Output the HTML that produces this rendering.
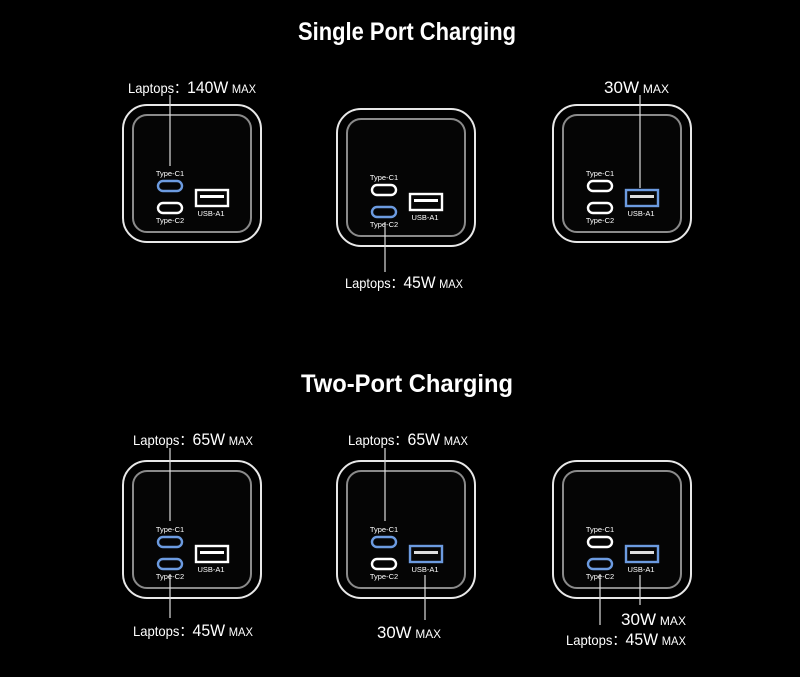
<!DOCTYPE html>
<html><head><meta charset="utf-8"><style>
html,body{margin:0;padding:0;background:#000;}
svg{display:block}
text{font-family:"Liberation Sans",sans-serif;fill:#fff}
</style></head><body>
<svg width="800" height="677" viewBox="0 0 800 677" xmlns="http://www.w3.org/2000/svg">
<defs>
<g id="box">
  <rect x="1" y="1" width="138" height="137" rx="24" fill="#000" stroke="#e8e8e8" stroke-width="2"/>
  <rect x="11" y="11" width="118" height="117" rx="14" fill="#050505" stroke="#8a8a8a" stroke-width="2"/>
  <text x="48" y="72" font-size="7.5" text-anchor="middle" fill="#ddd">Type-C1</text>
  <text x="48" y="119" font-size="7.5" text-anchor="middle" fill="#ddd">Type-C2</text>
  <text x="89" y="112" font-size="7.5" text-anchor="middle" fill="#ddd">USB-A1</text>
</g>
</defs>
<text x="407" y="40" font-size="25" font-weight="bold" text-anchor="middle" textLength="218" lengthAdjust="spacingAndGlyphs">Single Port Charging</text>
<text x="407" y="392" font-size="25" font-weight="bold" text-anchor="middle" textLength="212" lengthAdjust="spacingAndGlyphs">Two-Port Charging</text>

<g transform="translate(122,104)"><use href="#box"/>
 <rect x="36" y="77" width="24" height="10" rx="5" fill="none" stroke="#6c9be0" stroke-width="2.4"/>
 <rect x="36" y="99" width="24" height="10" rx="5" fill="none" stroke="#fff" stroke-width="2.4"/>
 <rect x="74" y="86" width="32" height="16" fill="none" stroke="#fff" stroke-width="2.4"/><rect x="78" y="91" width="24" height="3" fill="#fff"/>
</g>
<g transform="translate(336,108)"><use href="#box"/>
 <rect x="36" y="77" width="24" height="10" rx="5" fill="none" stroke="#fff" stroke-width="2.4"/>
 <rect x="36" y="99" width="24" height="10" rx="5" fill="none" stroke="#6c9be0" stroke-width="2.4"/>
 <rect x="74" y="86" width="32" height="16" fill="none" stroke="#fff" stroke-width="2.4"/><rect x="78" y="91" width="24" height="3" fill="#fff"/>
</g>
<g transform="translate(552,104)"><use href="#box"/>
 <rect x="36" y="77" width="24" height="10" rx="5" fill="none" stroke="#fff" stroke-width="2.4"/>
 <rect x="36" y="99" width="24" height="10" rx="5" fill="none" stroke="#fff" stroke-width="2.4"/>
 <rect x="74" y="86" width="32" height="16" fill="none" stroke="#6c9be0" stroke-width="2.4"/><rect x="78" y="91" width="24" height="3" fill="#ddd"/>
</g>
<g transform="translate(122,460)"><use href="#box"/>
 <rect x="36" y="77" width="24" height="10" rx="5" fill="none" stroke="#6c9be0" stroke-width="2.4"/>
 <rect x="36" y="99" width="24" height="10" rx="5" fill="none" stroke="#6c9be0" stroke-width="2.4"/>
 <rect x="74" y="86" width="32" height="16" fill="none" stroke="#fff" stroke-width="2.4"/><rect x="78" y="91" width="24" height="3" fill="#fff"/>
</g>
<g transform="translate(336,460)"><use href="#box"/>
 <rect x="36" y="77" width="24" height="10" rx="5" fill="none" stroke="#6c9be0" stroke-width="2.4"/>
 <rect x="36" y="99" width="24" height="10" rx="5" fill="none" stroke="#fff" stroke-width="2.4"/>
 <rect x="74" y="86" width="32" height="16" fill="none" stroke="#6c9be0" stroke-width="2.4"/><rect x="78" y="91" width="24" height="3" fill="#ddd"/>
</g>
<g transform="translate(552,460)"><use href="#box"/>
 <rect x="36" y="77" width="24" height="10" rx="5" fill="none" stroke="#fff" stroke-width="2.4"/>
 <rect x="36" y="99" width="24" height="10" rx="5" fill="none" stroke="#6c9be0" stroke-width="2.4"/>
 <rect x="74" y="86" width="32" height="16" fill="none" stroke="#6c9be0" stroke-width="2.4"/><rect x="78" y="91" width="24" height="3" fill="#ddd"/>
</g>

<g stroke="#ddd" stroke-width="1.2">
 <line x1="170" y1="95" x2="170" y2="166"/>
 <line x1="385" y1="222" x2="385" y2="272"/>
 <line x1="640" y1="95" x2="640" y2="188"/>
 <line x1="170" y1="448" x2="170" y2="521"/>
 <line x1="170" y1="574" x2="170" y2="618"/>
 <line x1="385" y1="448" x2="385" y2="521"/>
 <line x1="425" y1="575" x2="425" y2="620"/>
 <line x1="600" y1="574" x2="600" y2="625"/>
 <line x1="640" y1="575" x2="640" y2="605"/>
</g>

<g font-size="14">
<text x="128" y="93" textLength="128" lengthAdjust="spacingAndGlyphs">Laptops：<tspan font-size="17">140W</tspan> <tspan font-size="12">MAX</tspan></text>
<text x="345" y="288" textLength="118" lengthAdjust="spacingAndGlyphs">Laptops：<tspan font-size="17">45W</tspan> <tspan font-size="12">MAX</tspan></text>
<text x="604" y="93" textLength="65" lengthAdjust="spacingAndGlyphs"><tspan font-size="17">30W</tspan> <tspan font-size="12">MAX</tspan></text>
<text x="133" y="445" textLength="120" lengthAdjust="spacingAndGlyphs">Laptops：<tspan font-size="17">65W</tspan> <tspan font-size="12">MAX</tspan></text>
<text x="133" y="636" textLength="120" lengthAdjust="spacingAndGlyphs">Laptops：<tspan font-size="17">45W</tspan> <tspan font-size="12">MAX</tspan></text>
<text x="348" y="445" textLength="120" lengthAdjust="spacingAndGlyphs">Laptops：<tspan font-size="17">65W</tspan> <tspan font-size="12">MAX</tspan></text>
<text x="377" y="638" textLength="64" lengthAdjust="spacingAndGlyphs"><tspan font-size="17">30W</tspan> <tspan font-size="12">MAX</tspan></text>
<text x="621" y="625" textLength="65" lengthAdjust="spacingAndGlyphs"><tspan font-size="17">30W</tspan> <tspan font-size="12">MAX</tspan></text>
<text x="566" y="645" textLength="120" lengthAdjust="spacingAndGlyphs">Laptops：<tspan font-size="17">45W</tspan> <tspan font-size="12">MAX</tspan></text>
</g>
</svg>
</body></html>
